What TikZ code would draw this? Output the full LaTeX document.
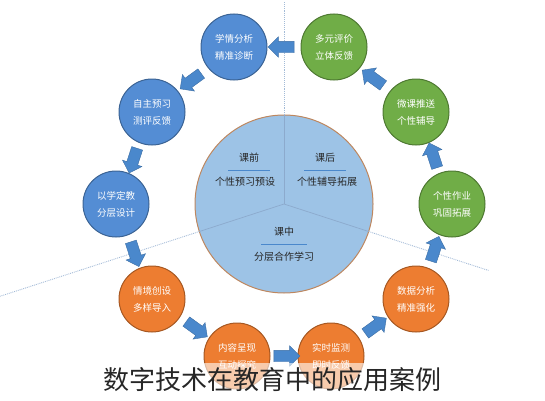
\documentclass[tikz,border=0pt]{standalone}
\usepackage{fontspec}
\setmainfont{Noto Sans CJK SC}
\usepackage{tikz}
\usetikzlibrary{positioning, calc, shapes.arrows}

\definecolor{cblue}{RGB}{84,141,212}
\definecolor{corange}{RGB}{237,125,49}
\definecolor{cgreen}{RGB}{112,173,71}
\definecolor{hubfill}{RGB}{157,195,230}
\definecolor{hubedge}{RGB}{190,135,95}
\definecolor{arrowblue}{RGB}{74,136,204}
\definecolor{lineblue}{RGB}{140,170,205}

\begin{document}
\begin{tikzpicture}[
    x=1pt, y=1pt,
    stage/.style={
        circle,
        draw=#1!70!black,
        line width=1pt,
        fill=#1,
        minimum size=66pt,
        inner sep=0pt,
        text=white,
        align=center,
        font=\fontsize{9.5}{17}\selectfont
    },
    hubdisc/.style={
        circle,
        draw=hubedge,
        line width=1pt,
        fill=hubfill,
        minimum size=178pt,
        inner sep=0pt,
        outer sep=0pt
    },
    flowarrow/.style={
        single arrow,
        draw=arrowblue!80!black,
        line width=0.4pt,
        fill=arrowblue,
        minimum height=26pt,
        inner sep=5.5pt,
        single arrow head extend=4.5pt,
        single arrow head indent=0pt
    },
    split/.style={draw=lineblue, line width=0.7pt},
    guide/.style={draw=lineblue!80, line width=0.9pt, densely dotted},
    rule/.style={draw=arrowblue, line width=0.7pt},
    parthead/.style={font=\fontsize{10}{12}\selectfont, text=black!85},
    parttext/.style={font=\fontsize{10}{12}\selectfont, text=black!85}
]
\useasboundingbox (0,0) rectangle (545,400);

% =========================================================
% Centre disc: three phases
% =========================================================
\node[hubdisc] (hub) at (284,196) {};

\draw[split] (hub.center) -- (hub.north);
\draw[split] (hub.center) -- (hub.198);
\draw[split] (hub.center) -- (hub.342);

\coordinate (gtop)   at (284,398);
\coordinate (gleft)  at ($(hub.center)+(198:300pt)$);
\coordinate (gright) at ($(hub.center)+(342:215pt)$);

\draw[guide] (hub.north) -- (gtop);
\draw[guide] (hub.198) -- (gleft);
\draw[guide] (hub.342) -- (gright);

\node[parthead] (pre)     at (249,242) {课前};
\node[parttext] (pretxt)  at (245,218) {个性预习预设};
\draw[rule] ($(pre.south)+(-21,-4)$) -- ($(pre.south)+(21,-4)$);

\node[parthead] (post)    at (325,242) {课后};
\node[parttext] (posttxt) at (327,218) {个性辅导拓展};
\draw[rule] ($(post.south)+(-21,-4)$) -- ($(post.south)+(21,-4)$);

\node[parthead] (mid)     at (284,168) {课中};
\node[parttext] (midtxt)  at (284,143) {分层合作学习};
\draw[rule] ($(mid.south)+(-23,-4)$) -- ($(mid.south)+(23,-4)$);

% =========================================================
% Outer ring of steps
% =========================================================
\node[stage=cblue]   (s1)  at (234,353) {学情分析\\精准诊断};
\node[stage=cblue]   (s2)  at (152,288) {自主预习\\测评反馈};
\node[stage=cblue]   (s3)  at (116,196) {以学定教\\分层设计};
\node[stage=corange] (s4)  at (152,101) {情境创设\\多样导入};
\node[stage=corange] (s5)  at (237,44)  {内容呈现\\互动探究};
\node[stage=corange] (s6)  at (331,44)  {实时监测\\即时反馈};
\node[stage=corange] (s7)  at (416,101) {数据分析\\精准强化};
\node[stage=cgreen]  (s8)  at (452,196) {个性作业\\巩固拓展};
\node[stage=cgreen]  (s9)  at (416,288) {微课推送\\个性辅导};
\node[stage=cgreen]  (s10) at (334,353) {多元评价\\立体反馈};

% block arrows between neighbours
\node[flowarrow, rotate=216] (a1)  at ($(s1)!0.5!(s2)$)  {};
\node[flowarrow, rotate=252] (a2)  at ($(s2)!0.5!(s3)$)  {};
\node[flowarrow, rotate=288] (a3)  at ($(s3)!0.5!(s4)$)  {};
\node[flowarrow, rotate=324] (a4)  at ($(s4)!0.5!(s5)$)  {};
\node[flowarrow, rotate=0]   (a5)  at ($(s5)!0.5!(s6)$)  {};
\node[flowarrow, rotate=36]  (a6)  at ($(s6)!0.5!(s7)$)  {};
\node[flowarrow, rotate=72]  (a7)  at ($(s7)!0.5!(s8)$)  {};
\node[flowarrow, rotate=108] (a8)  at ($(s8)!0.5!(s9)$)  {};
\node[flowarrow, rotate=144] (a9)  at ($(s9)!0.5!(s10)$) {};
\node[flowarrow, rotate=180] (a10) at ($(s10)!0.5!(s1)$) {};

% =========================================================
% Title
% =========================================================
\fill[white, opacity=0.6] (0,0) rectangle (545,37);
\node[font=\fontsize{26}{30}\selectfont, text=black!85] (title) at (272,20)
    {数字技术在教育中的应用案例};

\end{tikzpicture}
\end{document}
